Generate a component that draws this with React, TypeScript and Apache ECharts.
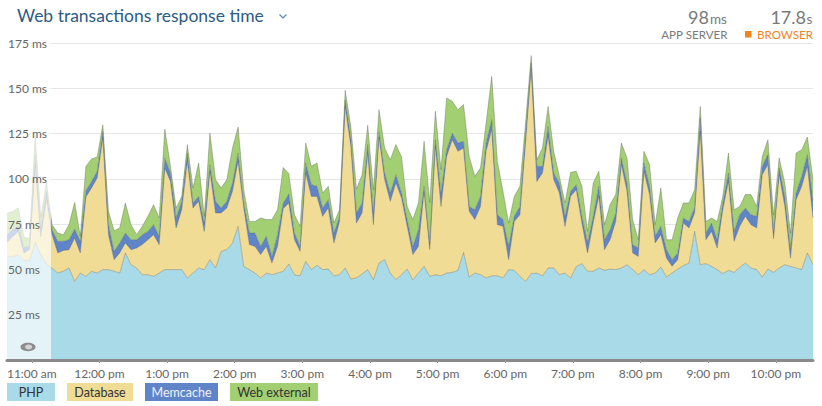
import React, { useEffect, useRef } from "react";
import * as echarts from "echarts";

// Samples every 5 minutes, first sample at 10:38 (minutes after midnight)
const START_MINUTE = 638;
const STEP_MINUTES = 5;

// Response time per layer, in ms (stacked)
const php = [
  57, 57, 58, 55, 55, 65, 58, 53, 50.8, 48,
  49, 50.8, 43.4, 48, 46.2, 49, 48, 49.9, 49.9, 49,
  48, 59.1, 52.6, 50.8, 47.1, 47.1, 46.2, 48, 49.9, 49.9,
  49.9, 49.9, 45.3, 48, 50.8, 49.9, 55.4, 50.8, 60, 60.9,
  64.6, 73.8, 51.7, 49.9, 48, 45.3, 48, 47.1, 48, 49,
  53, 47, 46.5, 54.5, 49.9, 52.3, 49.9, 50.2, 46.5, 47.1,
  50.8, 44.7, 45.3, 47.5, 49.9, 44.3, 53.5, 55.4, 48, 44.3,
  47.1, 50.2, 44.3, 48, 51.7, 46.2, 47.1, 46.5, 48, 48.4,
  49.5, 59.4, 45.8, 48, 47.1, 45.3, 46.5, 46.5, 45.3, 49.9,
  49.5, 46.2, 43.4, 47.7, 48, 46.5, 50.8, 50.8, 47.1, 48,
  45.3, 51.7, 53.2, 49, 49, 50.8, 49.5, 50.2, 49.9, 50.8,
  52.6, 49.9, 47.1, 49.9, 47.1, 48, 51.3, 45.8, 48, 50.2,
  52.1, 53.5, 71, 52.6, 53.2, 51.7, 49.9, 47.7, 49.5, 48.4,
  51.2, 53.5, 50.8, 49.9, 45.8, 50.2, 48.4, 50.8, 52.6, 51.7,
  50.8, 49.9, 59.1, 52.6,
];

const database = [
  8, 11, 13, 4, 6, 42, 10, 36, 18.4, 11.1,
  11.5, 10.1, 23.9, 11.1, 43.8, 46, 52.5, 72.7, 19.3, 6.4,
  11.1, 5.5, 8.3, 11, 16.6, 19.3, 23, 15.7, 56.1, 48.7,
  23, 33.1, 64.4, 35.9, 36.8, 21.1, 48.8, 30.4, 21.2, 23,
  28.5, 35.9, 32.2, 13.8, 14.7, 12.9, 14.7, 6.4, 14.7, 34.5,
  33.7, 19.4, 13.5, 48.7, 40.4, 38, 29.4, 33.7, 18.1, 29.4,
  89.2, 73.3, 30.3, 33.7, 64.4, 30.4, 69.6, 44.2, 39.6, 53.4,
  42.3, 23.6, 13.9, 14.7, 41.4, 14.8, 70.9, 38.3, 64.4, 73.2,
  65.7, 57.6, 36.3, 29.5, 37.7, 69.9, 80.7, 28.2, 28.5, 5.5,
  27, 34, 76.4, 113.3, 50.6, 56.7, 72.7, 48.8, 45.1, 25.8,
  45.1, 42.3, 22.4, 10.1, 26.6, 39.6, 11.4, 16.2, 26.6, 57.1,
  40.5, 9.2, 10.1, 54.3, 44.2, 16.6, 17.9, 10.5, 3.7, 5.2,
  23.5, 19.4, 10.2, 73.6, 13.2, 19.3, 11.9, 35.3, 49.1, 17.1,
  22.6, 25.8, 23.9, 23, 56.5, 57.7, 18.6, 51.5, 32.2, 4.6,
  37.7, 46, 47.8, 25.8,
];

const memcache = [
  4, 4, 3, 3, 2, 6, 4, 4, 2.7, 6.4,
  5, 5.5, 5, 6.4, 3.5, 3.6, 3.7, 3.6, 5.5, 4.6,
  5.5, 5.5, 5.5, 4.6, 5.5, 4.6, 5.5, 4.6, 5.5, 4.6,
  5.5, 4.6, 4.6, 2.8, 2.7, 4.6, 3.6, 6.4, 2.7, 3.7,
  4.6, 4.6, 2.8, 6.4, 7.4, 4.5, 5.6, 3.7, 6.5, 3,
  5, 3.7, 2.7, 5.6, 6.5, 5.6, 4.6, 4.6, 5.5, 2.8,
  3.5, 4.6, 5.6, 5.5, 4.6, 6.5, 3, 3.6, 4.6, 4.6,
  2.8, 3.7, 4.5, 9.3, 2.8, 3, 3.6, 7.4, 3.7, 3.7,
  4.6, 3.7, 2.7, 5.5, 5.5, 4.6, 5.5, 5.5, 3.7, 7.3,
  2.8, 4.6, 4.6, 3, 8.3, 3.7, 5.5, 3.6, 5.5, 5.5,
  2.7, 2.8, 3.7, 5.5, 3.7, 5.5, 5.5, 5.5, 4.7, 3.6,
  4.6, 4.6, 4.6, 4.6, 4.6, 3.7, 4.6, 4.6, 3.7, 3.7,
  2.8, 3.6, 3, 7.4, 3.7, 4.6, 4.6, 3.7, 4.6, 5.5,
  6.4, 4.6, 5.5, 6.4, 4.6, 5.5, 3, 3.7, 5.6, 4.6,
  3.7, 5.5, 6.5, 10.1,
];

const webExternal = [
  12, 10, 10, 6, 4, 11, 7, 5, 2.8, 4.6,
  3.7, 8.3, 14.7, 2.8, 13.4, 12.4, 7.9, 3.7, 7.4, 11.4,
  8.3, 16.6, 8.3, 2.8, 4.6, 8.3, 11, 10.1, 16, 3.7,
  5.5, 2.7, 4.6, 8.2, 18.5, 3.7, 17.5, 12, 11, 12,
  19.3, 14.3, 7.3, 6.4, 6.4, 15.7, 9.2, 20.3, 13.8, 19.8,
  11.1, 10.1, 11.1, 11, 10.1, 12.9, 8.3, 7.4, 5.5, 3.7,
  5.4, 6.4, 13.2, 15.6, 10.7, 12.8, 12.1, 13.8, 18.4, 16.6,
  19.9, 7.3, 14.8, 14.7, 24.8, 23, 15.7, 12.9, 28.6, 17.5,
  18.4, 20.3, 27.6, 18.4, 15.7, 11, 23.9, 29.5, 15.6, 12.9,
  11, 11.1, 6.5, 4, 3.7, 10.1, 11, 12, 3.7, 7.4,
  10.5, 7.4, 16.6, 6.4, 18.4, 8.3, 8.3, 13.9, 10.1, 8.3,
  13.8, 13.8, 4.6, 6.4, 12, 6.4, 21.2, 5.5, 11, 19.3,
  8.3, 10.2, 9.8, 6.4, 6.4, 2.8, 10.1, 3.7, 11.1, 12,
  4.6, 7.4, 11.1, 5.5, 5.5, 8.2, 10, 5.5, 7.3, 9.2,
  22.1, 14.7, 9.7, 11.1,
];

// Hour marks on the time axis (minutes after midnight)
const hourTicks = [660, 720, 780, 840, 900, 960, 1020, 1080, 1140, 1200, 1260, 1320];
const yTicks = [0, 25, 50, 75, 100, 125, 150, 175];

const seriesNames = ["PHP", "Database", "Memcache", "Web external"];
const seriesColors = ["#a8dae8", "#f0dc94", "#6084c8", "#a2cf72"];
const legendTextColors = ["#333333", "#333333", "#eef2fa", "#333333"];

const appServerValue = "98";
const appServerUnit = "ms";
const browserValue = "17.8";
const browserUnit = "s";

const FONT = "Lato, 'Open Sans', sans-serif";

function hourLabel(m: number): string {
  const h = Math.floor(m / 60);
  const suffix = h < 12 ? "am" : "pm";
  const h12 = h % 12 === 0 ? 12 : h % 12;
  return `${h12}:00 ${suffix}`;
}

export default function App() {
  const ref = useRef<HTMLDivElement>(null);

  useEffect(() => {
    if (!ref.current) return;
    const chart = echarts.init(ref.current, undefined, { renderer: "svg" });

    const minutes = php.map((_, i) => START_MINUTE + i * STEP_MINUTES);
    const layers = [php, database, memcache, webExternal];

    // value first so that the stack runs on the y dimension
    const series = layers.map((values, k) => ({
      name: seriesNames[k],
      type: "line",
      stack: "total",
      yAxisIndex: 0,
      symbol: "none",
      z: 2,
      dimensions: ["ms", "minute"],
      encode: { x: 1, y: 0 },
      data: values.map((v, i) => [v, minutes[i]]),
      lineStyle: { width: 1, color: "rgba(90,90,90,0.35)" },
      areaStyle: { color: seriesColors[k], opacity: 1 },
      itemStyle: { color: seriesColors[k] },
    }));

    // Legend chips
    const legendBoxes = [
      { x: 7, w: 48 },
      { x: 67, w: 66 },
      { x: 145, w: 73 },
      { x: 230, w: 88 },
    ];
    const legendEls: any[] = [];
    legendBoxes.forEach((b, k) => {
      legendEls.push({
        type: "rect",
        shape: { x: b.x, y: 383, width: b.w, height: 18 },
        style: { fill: seriesColors[k] },
      });
      legendEls.push({
        type: "text",
        x: b.x + b.w / 2,
        y: 392,
        style: {
          text: seriesNames[k],
          fill: legendTextColors[k],
          font: `12.5px ${FONT}`,
          align: "center",
          verticalAlign: "middle",
        },
      });
    });

    chart.setOption({
      animation: false,
      grid: { left: 7, right: 9, top: 43, bottom: 46, containLabel: false },
      xAxis: {
        type: "value",
        min: START_MINUTE,
        max: START_MINUTE + (php.length - 1) * STEP_MINUTES,
        z: 6,
        axisLine: { show: true, lineStyle: { color: "#8a8a8a", width: 3 } },
        axisTick: {
          show: true,
          customValues: hourTicks,
          length: 3,
          lineStyle: { color: "#9a9a9a", width: 1 },
        },
        axisLabel: {
          customValues: hourTicks,
          formatter: (v: number) => hourLabel(v),
          color: "#666666",
          fontSize: 12,
          fontFamily: FONT,
          margin: 7,
        },
        splitLine: { show: false },
      },
      yAxis: [
        {
          type: "value",
          min: 0,
          max: 175,
          interval: 25,
          z: 0,
          axisLine: { show: false },
          axisTick: { show: false },
          axisLabel: { show: false },
          splitLine: { show: true, lineStyle: { color: "#e6e6e6", width: 1 } },
        },
        {
          type: "value",
          min: 0,
          max: 175,
          interval: 25,
          position: "left",
          z: 8,
          axisLine: { show: false },
          axisTick: { show: false },
          splitLine: { show: false },
          axisLabel: {
            inside: true,
            margin: 1,
            color: "#666666",
            fontSize: 12,
            fontFamily: FONT,
            formatter: (v: number) => (v === 0 || !yTicks.includes(v) ? "" : `${v} ms`),
          },
        },
      ],
      series,
      graphic: [
        // faded leading window
        {
          type: "rect",
          z: 5,
          shape: { x: 7, y: 43, width: 44, height: 317 },
          style: { fill: "rgba(255,255,255,0.68)" },
        },
        {
          type: "ellipse",
          z: 7,
          shape: { cx: 28, cy: 347, rx: 7.5, ry: 4.2 },
          style: { fill: "#8c8c8c" },
        },
        {
          type: "ellipse",
          z: 7,
          shape: { cx: 28.6, cy: 347, rx: 3.6, ry: 2.4 },
          style: { fill: "#d4d4d4" },
        },
        // header
        {
          type: "text",
          x: 17,
          y: 15.5,
          style: {
            text: "Web transactions response time",
            fill: "#2c5b84",
            font: `17.5px ${FONT}`,
            verticalAlign: "middle",
          },
        },
        {
          type: "polyline",
          shape: { points: [[279.5, 14.5], [283, 18], [286.5, 14.5]] },
          style: { stroke: "#5b86ad", lineWidth: 1.2, fill: "none" },
        },
        {
          type: "text",
          x: 709,
          y: 17.2,
          style: {
            text: appServerValue,
            fill: "#7a7a7a",
            font: `18px ${FONT}`,
            align: "right",
            verticalAlign: "middle",
          },
        },
        {
          type: "text",
          x: 710,
          y: 18.6,
          style: {
            text: appServerUnit,
            fill: "#7a7a7a",
            font: `13.5px ${FONT}`,
            align: "left",
            verticalAlign: "middle",
          },
        },
        {
          type: "text",
          x: 806,
          y: 17.2,
          style: {
            text: browserValue,
            fill: "#7a7a7a",
            font: `18px ${FONT}`,
            align: "right",
            verticalAlign: "middle",
          },
        },
        {
          type: "text",
          x: 806.5,
          y: 18.6,
          style: {
            text: browserUnit,
            fill: "#7a7a7a",
            font: `13.5px ${FONT}`,
            align: "left",
            verticalAlign: "middle",
          },
        },
        {
          type: "text",
          x: 727.5,
          y: 34,
          style: {
            text: "APP SERVER",
            fill: "#7a7a7a",
            font: `11.6px ${FONT}`,
            align: "right",
            verticalAlign: "middle",
          },
        },
        {
          type: "rect",
          shape: { x: 745, y: 31, width: 6.5, height: 6.5 },
          style: { fill: "#f0841e" },
        },
        {
          type: "text",
          x: 813,
          y: 34,
          style: {
            text: "BROWSER",
            fill: "#f0841e",
            font: `11.6px ${FONT}`,
            align: "right",
            verticalAlign: "middle",
          },
        },
        ...legendEls,
      ],
    });

    return () => chart.dispose();
  }, []);

  return (
    <div
      ref={ref}
      style={{ position: "absolute", left: 0, top: 0, width: 822, height: 406 }}
    />
  );
}
